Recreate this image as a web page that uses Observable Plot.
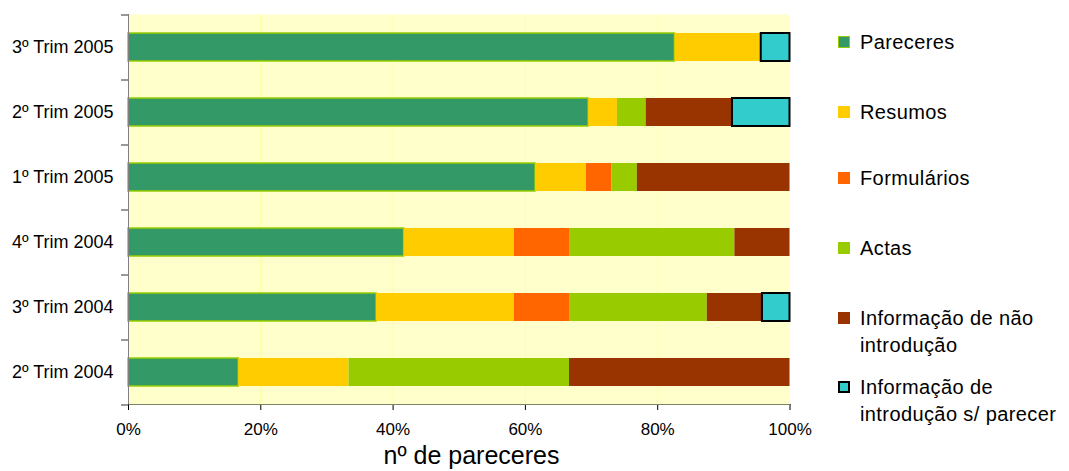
<!DOCTYPE html>
<html><head><meta charset="utf-8">
<script src="https://cdn.jsdelivr.net/npm/d3@7"></script>
<script src="https://cdn.jsdelivr.net/npm/@observablehq/plot@0.6"></script>
<style>
body{margin:0;background:#fff;font-family:"Liberation Sans",Arial,sans-serif;}
#wrap{position:relative;width:1069px;height:471px;overflow:hidden;}
#wrap svg{position:absolute;left:0;top:0;}
.leg{position:absolute;left:838px;font-size:20px;letter-spacing:0.4px;line-height:27px;color:#000;padding-left:22px;white-space:nowrap;}
.sw{position:absolute;left:0;top:7.5px;width:12px;height:12px;box-sizing:border-box;}
#title{position:absolute;left:0;width:943px;top:440px;text-align:center;font-size:25px;line-height:30px;color:#000;}
</style></head>
<body><div id="wrap"></div>
<script>
const categories = ["3º Trim 2005","2º Trim 2005","1º Trim 2005","4º Trim 2004","3º Trim 2004","2º Trim 2004"];
const seriesNames = ["Pareceres","Resumos","Formulários","Actas","Informação de não introdução","Informação de introdução s/ parecer"];
const legendLabels = ["Pareceres","Resumos","Formulários","Actas","Informação de não<br>introdução","Informação de<br>introdução s/ parecer"];
const pareceres   = [19,16,16,5,9,1];
const resumos     = [3,1,2,2,5,1];
const formularios = [0,0,1,1,2,0];
const actas       = [0,1,1,3,5,2];
const infoNao     = [0,3,6,1,2,2];
const infoIntro   = [1,2,0,0,1,0];
const colors  = ["#339966","#FFCC00","#FF6600","#99CC00","#993300","#33CCCC"];
const strokes = ["#99CC00","none","none","none","none","#000000"];
const strokeWidths = [1.5,0,0,0,0,2];
const xTicks = [0,0.2,0.4,0.6,0.8,1];
const xTitle = "nº de pareceres";

const seriesValues = [pareceres,resumos,formularios,actas,infoNao,infoIntro];
const table = [];
categories.forEach((c,i)=>{
  seriesNames.forEach((s,j)=>{
    const v = seriesValues[j][i];
    if (v > 0) table.push({cat:c, series:s, value:v, fill:colors[j], stroke:strokes[j], sw:strokeWidths[j]});
  });
});

const chart = Plot.plot({
  width:1069, height:471,
  marginLeft:128, marginRight:279.5, marginTop:14, marginBottom:67,
  style:{fontFamily:"Liberation Sans, Arial, sans-serif", fontSize:"17px", color:"#000", background:"transparent", overflow:"visible"},
  x:{domain:[0,1], ticks:xTicks, tickFormat:d3.format(".0%"), tickSize:6, tickPadding:12, line:true, label:null},
  y:{domain:categories, paddingInner:0.57, paddingOuter:0.285, axis:null},
  color:{type:"identity"},
  marks:[
    Plot.frame({fill:"#FFFFCC", stroke:"none"}),
    Plot.ruleX(xTicks.slice(1,5), {stroke:"#FFFF99", strokeWidth:1}),
    Plot.barX(table, Plot.stackX({x:"value", y:"cat", z:"series", order:seriesNames, offset:"normalize",
      fill:"fill", stroke:"stroke", strokeWidth:"sw"})),
    Plot.ruleX([0], {stroke:"#808080"}),
    Plot.ruleY(categories, {x1:0, x2:0, insetLeft:-7, dy:-32.5, stroke:"#333"}),
    Plot.ruleY([categories[categories.length-1]], {x1:0, x2:0, insetLeft:-7, dy:32.5, stroke:"#333"}),
    Plot.text(categories, {x:0, y:d=>d, dx:-15, textAnchor:"end", fontSize:18})
  ]
});
const wrap = document.getElementById("wrap");
wrap.appendChild(chart);

const legendCenters = [42,112,178,248,318,387];
seriesNames.forEach((s,j)=>{
  const d = document.createElement("div");
  d.className = "leg";
  d.style.top = (legendCenters[j]-13.5)+"px";
  const sw = document.createElement("span");
  sw.className = "sw";
  sw.style.background = colors[j];
  if (strokes[j] !== "none") sw.style.border = (j===0?"1.5px":"2px")+" solid "+strokes[j];
  d.appendChild(sw);
  const t = document.createElement("span");
  t.innerHTML = legendLabels[j];
  d.appendChild(t);
  wrap.appendChild(d);
});
const title = document.createElement("div");
title.id = "title";
title.textContent = xTitle;
wrap.appendChild(title);
</script>
</body></html>
